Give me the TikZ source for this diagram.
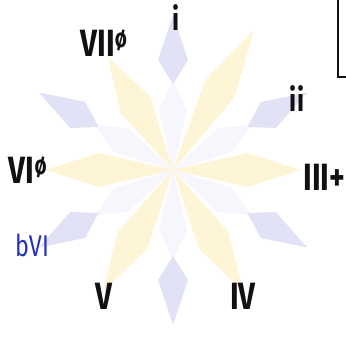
\documentclass[tikz,border=0pt]{standalone}
\usepackage{fontspec}
\setsansfont{Fira Sans}
\usepackage{tikz}
\definecolor{Ink}{HTML}{111111}
\definecolor{Petal}{HTML}{FDF5D6}
\definecolor{Lilac}{HTML}{E2E2F6}
\definecolor{Mist}{HTML}{F7F6FC}
\definecolor{FlatBlue}{HTML}{2530C0}

\begin{document}
\begin{tikzpicture}[
  x=1pt, y=-1pt,
  font=\sffamily,
  numeral/.style={text=Ink, font=\sffamily\bfseries\fontsize{38}{38}\selectfont, inner sep=0pt, xscale=0.78, transform shape},
  small/.style={numeral, font=\sffamily\bfseries\fontsize{32}{32}\selectfont},
  flat/.style={numeral, text=FlatBlue, font=\sffamily\fontsize{30}{30}\selectfont}
]
\useasboundingbox (0,0) rectangle (346,340);
\clip (0,0) rectangle (346,340);
\coordinate (hub) at (173,170);

\begin{scope}[shift={(hub)}]
% faint inner star
\foreach \a in {30,90,...,330}
  \fill[Mist, rotate=\a] (0,0) -- (60,-14) -- (90,0) -- (60,14) -- cycle;
% long yellow petals
\foreach \a/\len in {0/128, 60/162, 120/130, 180/128, 240/140, 300/140}
  \fill[Petal, rotate=\a] (0,0) -- (0.58*\len,-17) -- (\len,0) -- (0.58*\len,17) -- cycle;
% short lilac diamonds
\foreach \a in {30,90,...,330}
  \fill[Lilac, rotate=\a] (86,0) -- (110,-15) -- (155,0) -- (110,15) -- cycle;
\end{scope}

% box at the top right
\draw[Ink, line width=1.6pt] (338,-10) rectangle (420,77);

\node[small] (tonic) at (176,18) {i};
\node[numeral] (seventh) at (104,43) {VII\textsuperscript{ø}};
\node[small] (second) at (297,99) {ii};
\node[numeral] (sixth) at (28,170) {VI\textsuperscript{ø}};
\node[numeral, anchor=east] (third) at (345.5,177) {III+};
\node[flat] (flatsix) at (32,245) {bVI};
\node[numeral] (fifth) at (104,296) {V};
\node[numeral] (fourth) at (243,296) {IV};
\end{tikzpicture}
\end{document}
